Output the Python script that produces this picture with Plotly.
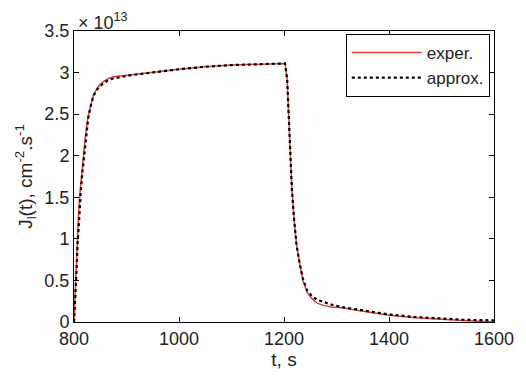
import plotly.graph_objects as go

# time, s
t_exp = [800, 801.5, 803, 806, 809, 812, 815, 818, 822, 827, 832, 837, 843, 850, 858, 866, 875,
         890, 910, 935, 960, 1000, 1050, 1100, 1150, 1190, 1202,
         1206, 1209, 1212, 1215, 1219, 1224, 1230, 1236, 1244, 1252, 1262, 1275, 1290, 1310,
         1330, 1360, 1400, 1450, 1500, 1550, 1600]
# flux, units of 1e13 cm^-2 s^-1
J_exp = [0.0, 0.25, 0.55, 1.05, 1.35, 1.6, 1.82, 2.02, 2.25, 2.48, 2.62, 2.73, 2.8, 2.86, 2.9, 2.93, 2.95,
         2.96, 2.97, 2.99, 3.01, 3.04, 3.07, 3.09, 3.1, 3.11, 3.11,
         2.92, 2.5, 2.0, 1.6, 1.25, 0.92, 0.7, 0.5, 0.36, 0.29, 0.23, 0.2, 0.18, 0.17,
         0.15, 0.12, 0.08, 0.05, 0.03, 0.015, 0.0]

t_app = [800, 802, 804, 807, 810, 813, 816, 819, 823, 827, 832, 837, 843, 850, 858, 866, 875,
         890, 910, 935, 960, 1000, 1050, 1100, 1150, 1190, 1202,
         1206, 1209, 1212, 1215, 1219, 1224, 1230, 1236, 1244, 1252, 1262, 1275, 1290, 1310,
         1330, 1360, 1400, 1450, 1500, 1550, 1600]
J_app = [0.0, 0.2, 0.5, 0.95, 1.3, 1.57, 1.8, 2.0, 2.23, 2.45, 2.6, 2.72, 2.79, 2.84, 2.88, 2.91, 2.93,
         2.95, 2.97, 2.99, 3.01, 3.04, 3.07, 3.09, 3.1, 3.11, 3.11,
         2.92, 2.5, 2.0, 1.6, 1.25, 0.92, 0.7, 0.52, 0.38, 0.32, 0.27, 0.24, 0.21, 0.18,
         0.16, 0.13, 0.09, 0.06, 0.04, 0.025, 0.02]

x_ticks = [800, 1000, 1200, 1400, 1600]
y_ticks = [0, 0.5, 1, 1.5, 2, 2.5, 3, 3.5]
y_tick_text = ["0", "0.5", "1", "1.5", "2", "2.5", "3", "3.5"]

font = "Liberation Sans, Arial, sans-serif"
txt = "#222"

fig = go.Figure()
fig.add_trace(go.Scatter(x=t_exp, y=J_exp, mode="lines", name="exper.",
                         line=dict(color="#e8393b", width=1.5)))
fig.add_trace(go.Scatter(x=t_app, y=J_app, mode="lines", name="approx.",
                         line=dict(color="black", width=2.2, dash="dot")))

axis_common = dict(showline=True, linecolor="black", linewidth=1, mirror="ticks",
                   ticks="inside", ticklen=5, tickcolor="black", showgrid=False,
                   zeroline=False, tickfont=dict(family=font, size=18, color=txt))

fig.update_layout(
    width=526, height=378,
    margin=dict(l=74, r=23, t=31, b=54),
    paper_bgcolor="white", plot_bgcolor="white",
    font=dict(family=font, size=18, color=txt),
    xaxis=dict(range=[800, 1600], tickvals=x_ticks,
               title=dict(text="t, s", font=dict(family=font, size=19), standoff=4),
               **axis_common),
    yaxis=dict(range=[0, 3.5], tickvals=y_ticks, ticktext=y_tick_text,
               title=dict(text="J<sub>l</sub>(t), cm<sup>-2</sup>.s<sup>-1</sup>",
                          font=dict(family=font, size=19), standoff=6),
               **axis_common),
    legend=dict(x=0.99, y=0.99, xanchor="right", yanchor="top",
                bordercolor="black", borderwidth=1, bgcolor="white",
                font=dict(family=font, size=17, color=txt),
                tracegroupgap=0, itemwidth=70),
    showlegend=True,
)

fig.add_annotation(xref="paper", yref="paper", x=0.0, y=1.0, xanchor="left", yanchor="bottom",
                   text="× 10<sup>13</sup>", showarrow=False,
                   font=dict(family=font, size=18, color=txt), xshift=2, yshift=-4)

fig.write_html("out.html")
